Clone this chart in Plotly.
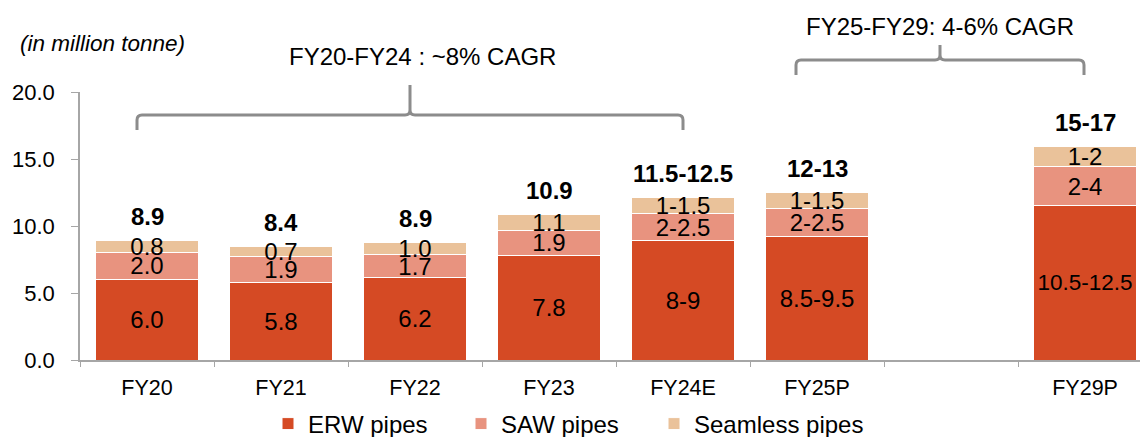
import plotly.graph_objects as go

years = ["FY20", "FY21", "FY22", "FY23", "FY24E", "FY25P", " ", "FY29P"]
erw = [6.0, 5.8, 6.15, 7.8, 8.9, 9.2, None, 11.5]
saw = [2.05, 1.9, 1.7, 1.9, 2.05, 2.1, None, 2.95]
seamless = [0.85, 0.75, 0.95, 1.15, 1.2, 1.2, None, 1.45]

erw_labels = ["6.0", "5.8", "6.2", "7.8", "8-9", "8.5-9.5", "", "10.5-12.5"]
saw_labels = ["2.0", "1.9", "1.7", "1.9", "2-2.5", "2-2.5", "", "2-4"]
seamless_labels = ["0.8", "0.7", "1.0", "1.1", "1-1.5", "1-1.5", "", "1-2"]
total_labels = ["8.9", "8.4", "8.9", "10.9", "11.5-12.5", "12-13", "", "15-17"]

FONT = "Liberation Sans, Arial, sans-serif"
GREY = "#a6a6a6"

W, H = 1140, 437
ML, MR, MT, MB = 80, 0, 92, 77
PW, PH = W - ML - MR, H - MT - MB


def px(x):
    return (x - ML) / PW


def py(y):
    return (H - MB - y) / PH


def brace(left, right, mid, h, bottom, top, r=5):
    pts = [
        f"M{px(left)},{py(bottom)}",
        f"L{px(left)},{py(h + r)}",
        f"Q{px(left)},{py(h)} {px(left + r)},{py(h)}",
        f"L{px(mid - r)},{py(h)}",
        f"Q{px(mid)},{py(h)} {px(mid)},{py(h - r)}",
        f"L{px(mid)},{py(top)}",
        f"L{px(mid)},{py(h - r)}",
        f"Q{px(mid)},{py(h)} {px(mid + r)},{py(h)}",
        f"L{px(right - r)},{py(h)}",
        f"Q{px(right)},{py(h)} {px(right)},{py(h + r)}",
        f"L{px(right)},{py(bottom)}",
    ]
    return dict(type="path", xref="paper", yref="paper", path=" ".join(pts),
                line=dict(color="#8c8c8c", width=3))


def legend_at(x_pix):
    return dict(orientation="h", xref="container", yref="container",
                x=x_pix / W, xanchor="left", y=13 / H, yanchor="middle",
                font=dict(family=FONT, size=24, color="black"), itemwidth=30)


fig = go.Figure()
series = [
    ("ERW pipes", erw, erw_labels, "#d54a24", "legend"),
    ("SAW pipes", saw, saw_labels, "#e8937f", "legend2"),
    ("Seamless pipes", seamless, seamless_labels, "#eac29a", "legend3"),
]
for name, vals, labels, color, leg in series:
    # long range labels are set a little smaller so they fit the bar
    sizes = [22.5 if len(lab) > 8 else 24 for lab in labels]
    fig.add_trace(go.Bar(
        x=years, y=vals, name=name, text=labels, legend=leg,
        textposition="inside", insidetextanchor="middle", textangle=0,
        constraintext="none", cliponaxis=False,
        insidetextfont=dict(family=FONT, size=sizes, color="black"),
        marker=dict(color=color, line=dict(color="white", width=1)),
        hoverinfo="skip",
    ))

totals = [None if e is None else e + s + m for e, s, m in zip(erw, saw, seamless)]
for yr, t, lab in zip(years, totals, total_labels):
    if t is None:
        continue
    fig.add_annotation(x=yr, y=t, text=f"<b>{lab}</b>", showarrow=False,
                       yanchor="middle", yshift=24,
                       font=dict(family=FONT, size=24, color="black"))

fig.add_annotation(xref="paper", yref="paper", x=px(18), y=py(43),
                   xanchor="left", yanchor="middle",
                   text="<i>(in million tonne)</i>", showarrow=False,
                   font=dict(family=FONT, size=22.5, color="black"))
fig.add_annotation(xref="paper", yref="paper", x=px(422), y=py(57),
                   xanchor="center", yanchor="middle",
                   text="FY20-FY24 : ~8% CAGR", showarrow=False,
                   font=dict(family=FONT, size=24, color="black"))
fig.add_annotation(xref="paper", yref="paper", x=px(940), y=py(27),
                   xanchor="center", yanchor="middle",
                   text="FY25-FY29: 4-6% CAGR", showarrow=False,
                   font=dict(family=FONT, size=24, color="black"))

fig.add_shape(brace(137, 683, 410, 115, 130, 85))
fig.add_shape(brace(796, 1084, 940, 60, 75, 45))

fig.update_layout(
    width=W, height=H,
    margin=dict(l=ML, r=MR, t=MT, b=MB, autoexpand=False),
    barmode="stack", bargap=0.23,
    plot_bgcolor="white", paper_bgcolor="white",
    font=dict(family=FONT, size=22, color="black"),
    showlegend=True,
    legend=legend_at(268),
    legend2=legend_at(461),
    legend3=legend_at(654),
)
fig.update_xaxes(
    range=[-0.5, 7.41], showline=True, linecolor=GREY, linewidth=1.5,
    ticks="outside", tickson="boundaries", ticklen=5, tickcolor=GREY,
    showgrid=False, tickfont=dict(size=21.5), ticklabelstandoff=7,
)
fig.update_yaxes(
    range=[0, 20], dtick=5, tickformat=".1f", showline=True, linecolor=GREY,
    linewidth=1.5, ticks="outside", ticklen=7, tickcolor=GREY, showgrid=False,
    zeroline=False, tickfont=dict(size=22), ticklabelstandoff=12,
)

fig.write_html(
    "out.html",
    config={"displayModeBar": False},
    post_script="document.body.style.margin='0';document.body.style.overflow='hidden';",
)
